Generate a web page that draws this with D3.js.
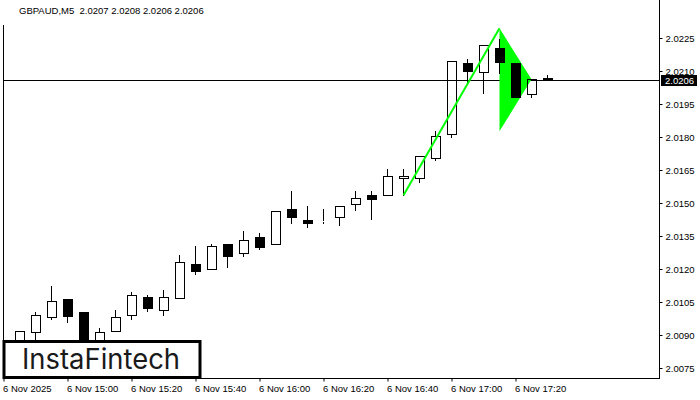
<!DOCTYPE html>
<html><head><meta charset="utf-8">
<script src="https://cdn.jsdelivr.net/npm/d3@7"></script>
<style>html,body{margin:0;padding:0;background:#fff;}svg{display:block;}</style>
</head><body>
<script>
// ---- data ----
const symbol = "GBPAUD,M5";
const lastOHLC = [2.0207, 2.0208, 2.0206, 2.0206];
const times = ["14:45","14:50","14:55","15:00","15:05","15:10","15:15","15:20","15:25","15:30","15:35","15:40","15:45","15:50","15:55","16:00","16:05","16:10","16:15","16:20","16:25","16:30","16:35","16:40","16:45","16:50","16:55","17:00","17:05","17:10","17:15","17:20","17:25","17:30"];
const opens  = [2.00823,2.00912,2.00980,2.01064,2.01003,2.00832,2.00920,2.00991,2.01073,2.01012,2.01067,2.01221,2.01201,2.01312,2.01271,2.01344,2.01312,2.01471,2.01421,2.01420,2.01435,2.01494,2.01535,2.01535,2.01612,2.01612,2.01703,2.01812,2.02136,2.02094,2.02205,2.02136,2.01994,2.0207];
const highs  = [2.00920,2.01003,2.01123,2.01064,2.01003,2.00930,2.01014,2.01094,2.01082,2.01105,2.01262,2.01305,2.01314,2.01312,2.01373,2.01364,2.01462,2.01555,2.01486,2.01473,2.01485,2.01553,2.01555,2.01655,2.01655,2.01714,2.01827,2.02144,2.02155,2.02218,2.02245,2.02136,2.02062,2.0208];
const lows   = [2.00814,2.00855,2.00971,2.00959,2.00795,2.00823,2.00918,2.00971,2.01010,2.00991,2.01066,2.01179,2.01201,2.01209,2.01260,2.01292,2.01312,2.01410,2.01392,2.01410,2.01401,2.01470,2.01426,2.01535,2.01535,2.01594,2.01694,2.01801,2.02051,2.02001,2.02092,2.01983,2.01983,2.0206];
const closes = [2.00920,2.00991,2.01053,2.00988,2.00805,2.00912,2.00982,2.01080,2.01021,2.01071,2.01232,2.01192,2.01305,2.01260,2.01330,2.01301,2.01462,2.01435,2.01410,2.01420,2.01485,2.01521,2.01520,2.01621,2.01621,2.01714,2.01805,2.02144,2.02101,2.02218,2.02142,2.01983,2.02062,2.0206];
const currentPrice = 2.0206;
const yTicks = [2.0075,2.0090,2.0105,2.0120,2.0135,2.0150,2.0165,2.0180,2.0195,2.0210,2.0225];
const xTickIdx = [0,4,8,12,16,20,24,28,32];
const xTickLabels = ["6 Nov 2025","6 Nov 15:00","6 Nov 15:20","6 Nov 15:40","6 Nov 16:00","6 Nov 16:20","6 Nov 16:40","6 Nov 17:00","6 Nov 17:20"];
// pennant pattern: pole start, apex, flag low, flag tip (bar index, price)
const poleIdx = [25, 31];
const polePrice = [2.01535, 2.02294];
const flagIdx = [31, 31, 33];
const flagPrice = [2.02294, 2.01826, 2.02062];
const brand = "InstaFintech";

// ---- layout ----
const W = 700, H = 400;
const plotL = 3.5, plotR = 659.5, plotB = 378.5;
const svg = d3.select("body").append("svg").attr("width", W).attr("height", H)
  .attr("font-family", "'Liberation Sans', Arial, sans-serif");

const x = d3.scaleLinear().domain([0, 1]).range([3.5, 19.5]); // bar index -> px (16px per bar)
const y = d3.scaleLinear().domain([2.0075, 2.0225]).range([368, 38]);
const bars = times.map((t, i) => ({t, i: i + 1, o: opens[i], h: highs[i], l: lows[i], c: closes[i]}));

// current price line
const yc = Math.round(y(currentPrice)) + 0.5;
svg.append("line").attr("x1", plotL).attr("x2", plotR).attr("y1", yc).attr("y2", yc)
  .attr("stroke", "#000").attr("stroke-width", 1);

// pennant flag (under candles)
const flagPts = flagIdx.map((d, k) => [x(d), y(flagPrice[k])]);
svg.append("polygon").attr("points", flagPts.map(p => p.join(",")).join(" ")).attr("fill", "#00ff00");

// candles
const g = svg.append("g").attr("shape-rendering", "crispEdges");
const bodyTop = d => Math.round(y(Math.max(d.o, d.c)));
const bodyBot = d => Math.round(y(Math.min(d.o, d.c)));
g.selectAll("line.uw").data(bars.filter(d => Math.round(y(d.h)) < bodyTop(d))).join("line")
  .attr("x1", d => x(d.i)).attr("x2", d => x(d.i))
  .attr("y1", d => Math.round(y(d.h))).attr("y2", d => bodyTop(d))
  .attr("stroke", "#000").attr("stroke-width", 1);
g.selectAll("line.lw").data(bars.filter(d => Math.round(y(d.l)) > bodyBot(d))).join("line")
  .attr("x1", d => x(d.i)).attr("x2", d => x(d.i))
  .attr("y1", d => bodyBot(d) + 1).attr("y2", d => Math.round(y(d.l)) + 1)
  .attr("stroke", "#000").attr("stroke-width", 1);
g.selectAll("rect.body").data(bars).join("rect")
  .attr("x", d => x(d.i) - 4)
  .attr("y", d => bodyTop(d) + 0.5)
  .attr("width", 9)
  .attr("height", d => Math.max(0, bodyBot(d) - bodyTop(d)))
  .attr("fill", d => d.c < d.o ? "#000" : "none")
  .attr("stroke", "#000").attr("stroke-width", 1);

// pennant pole (over candles)
svg.append("line").attr("x1", x(poleIdx[0])).attr("y1", y(polePrice[0]))
  .attr("x2", x(poleIdx[1])).attr("y2", y(polePrice[1]))
  .attr("stroke", "#00ff00").attr("stroke-width", 2);

// frame / axes
svg.append("line").attr("x1", plotL).attr("x2", plotL).attr("y1", 25).attr("y2", plotB)
  .attr("stroke", "#000").attr("shape-rendering", "crispEdges");
svg.append("line").attr("x1", plotR).attr("x2", plotR).attr("y1", 0).attr("y2", plotB)
  .attr("stroke", "#000").attr("shape-rendering", "crispEdges");
svg.append("line").attr("x1", plotL).attr("x2", plotR).attr("y1", plotB).attr("y2", plotB)
  .attr("stroke", "#000").attr("shape-rendering", "crispEdges");

// y axis
const yAxisG = svg.append("g").attr("transform", `translate(${plotR},0)`);
const yAxis = d3.axisRight(y).tickValues(yTicks).tickFormat(d3.format(".4f")).tickSize(3).tickPadding(3);
yAxisG.call(yAxis);
yAxisG.select(".domain").remove();
yAxisG.selectAll(".tick line").attr("stroke", "#000");
yAxisG.selectAll(".tick text").attr("font-size", "9.5px").attr("fill", "#000")
  .attr("font-family", "'Liberation Sans', Arial, sans-serif");

// current price label
const pl = svg.append("g");
pl.append("rect").attr("x", 661).attr("y", yc - 5.5).attr("width", 36).attr("height", 11).attr("fill", "#000");
pl.append("text").attr("x", 665).attr("y", yc + 3.5).attr("fill", "#fff").attr("font-size", "9.5px").text(currentPrice.toFixed(4));

// x axis
const xAxisG = svg.append("g").attr("transform", `translate(0,${plotB})`);
const xAxis = d3.axisBottom(x).tickValues(xTickIdx).tickFormat((d, k) => xTickLabels[k]).tickSize(3).tickPadding(4);
xAxisG.call(xAxis);
xAxisG.select(".domain").remove();
xAxisG.selectAll(".tick line").attr("stroke", "#000");
xAxisG.selectAll(".tick text").attr("text-anchor", "start").attr("dx", "-1").attr("font-size", "9.5px")
  .attr("fill", "#000").attr("font-family", "'Liberation Sans', Arial, sans-serif");

// title
svg.append("text").attr("x", 19).attr("y", 14).attr("font-size", "9.5px").attr("fill", "#000")
  .text(`${symbol}  ${lastOHLC.map(v => v.toFixed(4)).join(" ")}`).attr("xml:space", "preserve");

// brand box
svg.append("rect").attr("x", 4).attr("y", 341.5).attr("width", 196).attr("height", 36)
  .attr("fill", "#fff").attr("stroke", "#000").attr("stroke-width", 3);
svg.append("text").attr("x", 22).attr("y", 369).attr("font-size", "28px")
  .attr("font-family", "Inter, 'Noto Sans', sans-serif").attr("font-weight", 400)
  .attr("fill", "#1a1a1a").attr("textLength", 158).attr("lengthAdjust", "spacingAndGlyphs").text(brand);
</script>
</body></html>
